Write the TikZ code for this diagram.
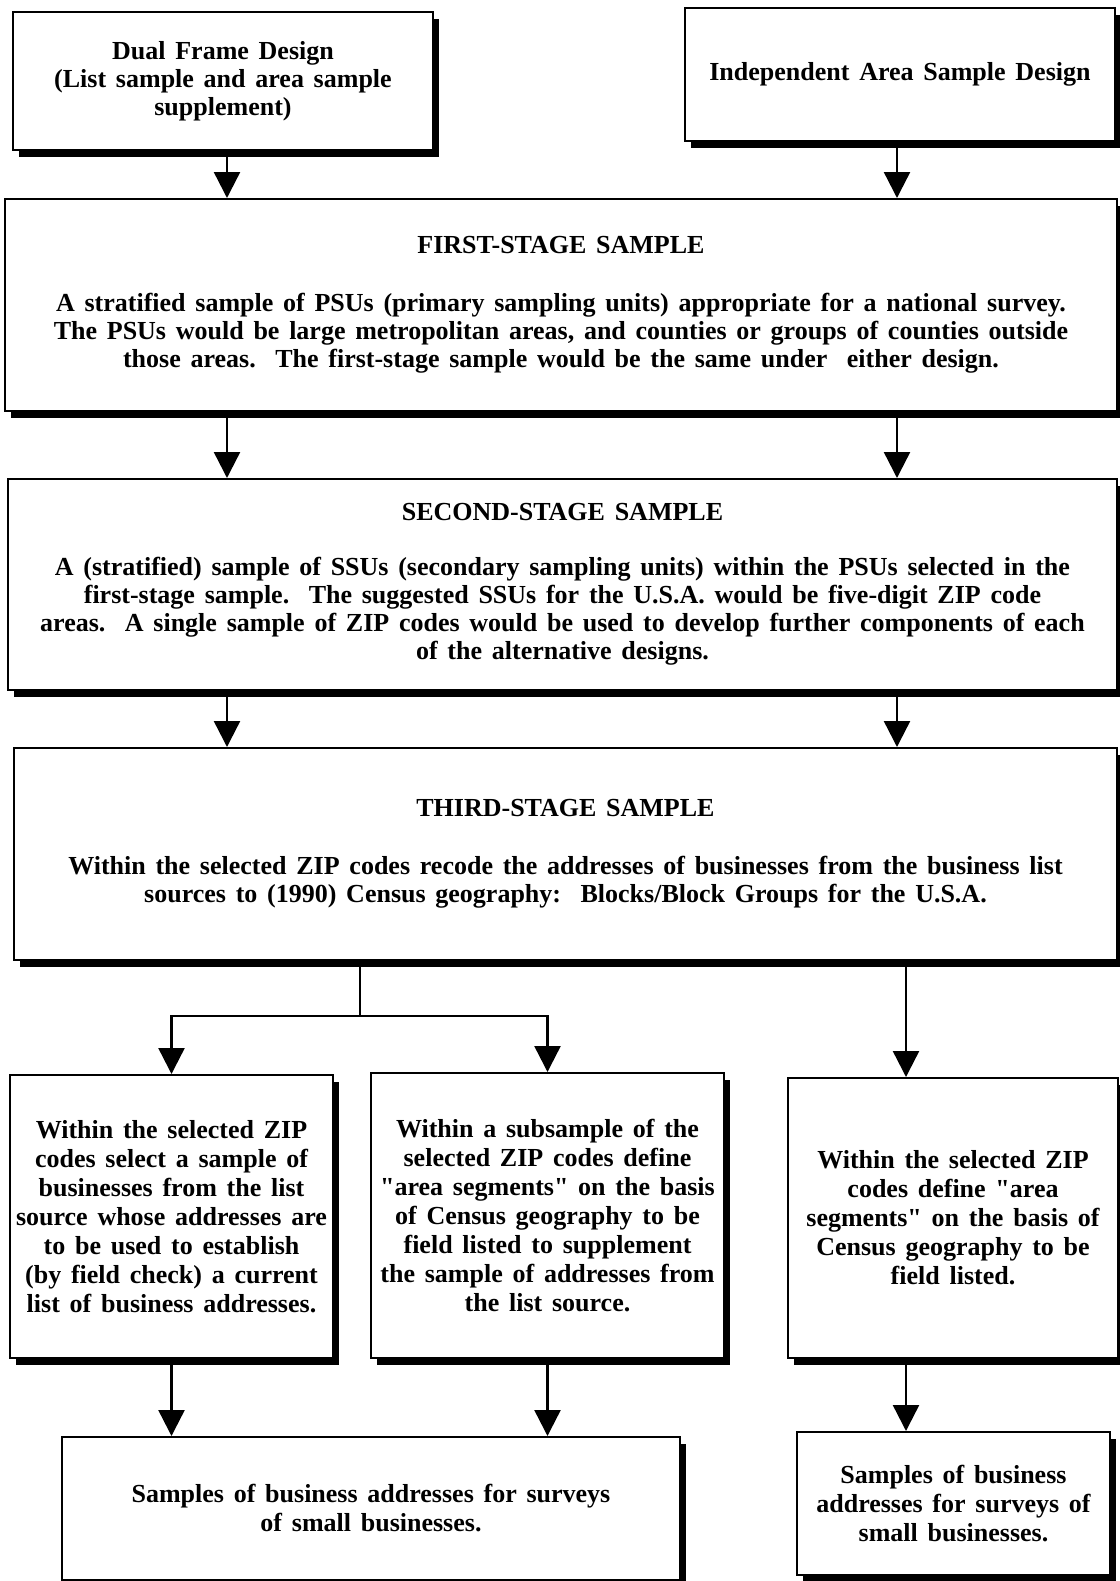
\documentclass[tikz,border=0pt]{standalone}
\usepackage{fontspec}
\setmainfont{Liberation Serif}[WordSpace=1.5]
\usetikzlibrary{arrows.meta,shadows}

\tikzset{
  stagebox/.style={draw,fill=white,line width=1pt,align=center,inner sep=0pt,
    font=\bfseries\fontsize{13}{14}\selectfont,
    drop shadow={shadow xshift=3pt,shadow yshift=-3.5pt,opacity=1,fill=black}},
  smallbox/.style={stagebox,font=\bfseries\fontsize{13}{14.5}\selectfont},
  flowarrow/.style={-{Triangle[width=13pt,length=13pt]},line width=1.2pt},
}

\begin{document}
\begin{tikzpicture}[x=.5pt,y=-.5pt]
\useasboundingbox (0,0) rectangle (1120,1581);
\coordinate (lcol) at (227,0);
\coordinate (rcol) at (897,0);
\coordinate (rcolb) at (906,0);
\coordinate (split) at (360,1016);

\node[stagebox,minimum width=210pt,minimum height=69pt] (dual) at (223,81)
  {Dual Frame Design\\(List sample and area sample\\supplement)};
\node[stagebox,minimum width=215pt,minimum height=66.5pt] (indep) at (900,74.5)
  {Independent Area Sample Design};

\node[stagebox,minimum width=556pt,minimum height=106pt] (first) at (561,305)
  {FIRST-STAGE SAMPLE\\[15pt]
   A stratified sample of PSUs (primary sampling units) appropriate for a national survey.\\
   The PSUs would be large metropolitan areas, and counties or groups of counties outside\\
   those areas.\ \ The first-stage sample would be the same under\ \ either design.};
\node[stagebox,minimum width=554.5pt,minimum height=105.5pt] (second) at (562.5,584.5)
  {SECOND-STAGE SAMPLE\\[13.5pt]
   A (stratified) sample of SSUs (secondary sampling units) within the PSUs selected in the\\
   first-stage sample.\ \ The suggested SSUs for the U.S.A. would be five-digit ZIP code\\
   areas.\ \ A single sample of ZIP codes would be used to develop further components of each\\
   of the alternative designs.};
\node[stagebox,minimum width=551.5pt,minimum height=106pt] (third) at (565.5,854)
  {THIRD-STAGE SAMPLE\\[15pt]
   Within the selected ZIP codes recode the addresses of businesses from the business list\\
   sources to (1990) Census geography:\ \ Blocks/Block Groups for the U.S.A.};

\node[smallbox,minimum width=161.5pt,minimum height=141.5pt] (listsel) at (171.5,1216.5)
  {Within the selected ZIP\\codes select a sample of\\businesses from the list\\
   source whose addresses are\\to be used to establish\\(by field check) a current\\
   list of business addresses.};
\node[smallbox,minimum width=176.5pt,minimum height=142.5pt] (areaseg) at (547.5,1215.5)
  {Within a subsample of the\\selected ZIP codes define\\\textquotedbl area segments\textquotedbl\ on the basis\\
   of Census geography to be\\field listed to supplement\\the sample of addresses from\\
   the list source.};
\node[smallbox,minimum width=165pt,minimum height=140pt] (indseg) at (953,1218)
  {Within the selected ZIP\\codes define \textquotedbl area\\segments\textquotedbl\ on the basis of\\
   Census geography to be\\field listed.};

\node[smallbox,minimum width=309pt,minimum height=71.5pt] (dualout) at (371,1508.5)
  {Samples of business addresses for surveys\\of small businesses.};
\node[smallbox,minimum width=156.5pt,minimum height=71.5pt] (indout) at (953.5,1503.5)
  {Samples of business\\addresses for surveys of\\small businesses.};

% design to stage arrows
\draw[flowarrow] (dual.south -| lcol) -- (first.north -| lcol);
\draw[flowarrow] (indep.south -| rcol) -- (first.north -| rcol);
\draw[flowarrow] (first.south -| lcol) -- (second.north -| lcol);
\draw[flowarrow] (first.south -| rcol) -- (second.north -| rcol);
\draw[flowarrow] (second.south -| lcol) -- (third.north -| lcol);
\draw[flowarrow] (second.south -| rcol) -- (third.north -| rcol);

% third stage split
\draw[line width=1.2pt] (third.south -| split) -- (split);
\draw[flowarrow] (split) -| (listsel.north);
\draw[flowarrow] (split) -| (areaseg.north);
\draw[flowarrow] (third.south -| rcolb) -- (indseg.north -| rcolb);

% samples
\draw[flowarrow] (listsel.south) -- (listsel.south |- dualout.north);
\draw[flowarrow] (areaseg.south) -- (areaseg.south |- dualout.north);
\draw[flowarrow] (indseg.south -| rcolb) -- (indout.north -| rcolb);
\end{tikzpicture}
\end{document}
